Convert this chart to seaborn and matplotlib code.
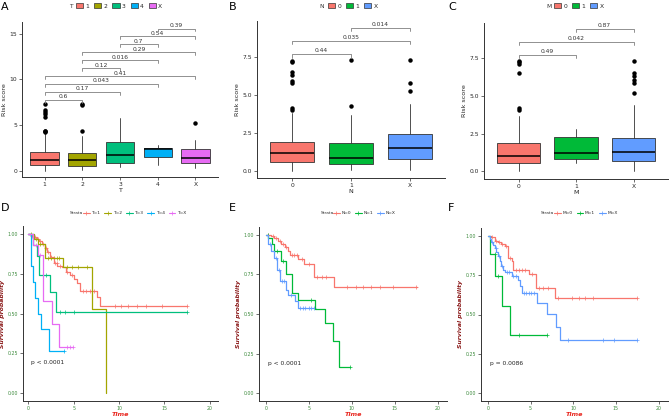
import numpy as np
import pandas as pd
import seaborn as sns
import matplotlib
matplotlib.use('Agg')
import matplotlib.pyplot as plt
from matplotlib.patches import Patch
from matplotlib.lines import Line2D

# ---- box plot data ----
t_cats = ['1', '2', '3', '4', 'X']
t_q1 = [0.6, 0.5, 0.85, 1.45, 0.8]
t_med = [1.15, 1.15, 1.7, 2.35, 1.35]
t_q3 = [2.0, 1.9, 3.1, 2.45, 2.4]
t_lo = [0.0, 0.05, 0.35, 0.6, 0.3]
t_hi = [4.1, 3.8, 5.8, 2.8, 3.4]
t_out = [[4.2, 4.3, 4.4, 5.85, 6.2, 6.4, 6.6, 7.3], [4.35, 7.2, 7.3], [], [], [5.2]]
t_pvals = ['0.6', '0.17', '0.043', '0.41', '0.12', '0.016', '0.29', '0.7', '0.54', '0.39']

n_cats = ['0', '1', 'X']
n_q1 = [0.6, 0.5, 0.8]
n_med = [1.2, 0.85, 1.5]
n_q3 = [1.93, 1.86, 2.45]
n_lo = [0.0, 0.07, 0.1]
n_hi = [3.8, 3.7, 4.4]
n_out = [[4.05, 4.15, 5.8, 5.9, 6.3, 6.5, 7.2, 7.25], [4.3, 7.3], [5.25, 5.8, 7.3]]
n_pvals = ['0.44', '0.035', '0.014']

m_cats = ['0', '1', 'X']
m_q1 = [0.55, 0.8, 0.7]
m_med = [1.0, 1.2, 1.3]
m_q3 = [1.85, 2.26, 2.24]
m_lo = [0.05, 0.55, 0.0]
m_hi = [3.7, 2.8, 4.4]
m_out = [[4.07, 4.18, 6.53, 7.14, 7.23, 7.32], [], [5.21, 5.87, 6.04, 6.3, 6.48, 7.32]]
m_pvals = ['0.49', '0.042', '0.87']

# ---- Kaplan-Meier data ----
d_groups = ['T=1', 'T=2', 'T=3', 'T=4', 'T=X']
d_times = [[0, 0.3, 0.6, 0.9, 1.2, 1.5, 1.8, 2.1, 2.4, 2.8, 3.2, 3.7, 4.1, 4.6, 5.0, 5.4, 5.7, 7.6, 7.9],
           [0, 0.6, 1.1, 1.8, 3.8, 7.0, 8.5],
           [0, 0.5, 0.9, 1.2, 2.4, 3.0],
           [0, 0.3, 0.45, 0.7, 1.0, 1.4, 2.3],
           [0, 0.5, 1.1, 1.6, 2.6, 3.4]]
d_surv = [[1.0, 0.99, 0.98, 0.97, 0.955, 0.94, 0.91, 0.885, 0.855, 0.82, 0.80, 0.79, 0.76, 0.74, 0.72, 0.69, 0.64, 0.605, 0.547],
          [1.0, 0.97, 0.94, 0.848, 0.79, 0.53, 0.0],
          [1.0, 0.93, 0.86, 0.745, 0.638, 0.511],
          [1.0, 0.8, 0.7, 0.6, 0.5, 0.4, 0.267],
          [1.0, 0.93, 0.866, 0.578, 0.434, 0.292]]
d_end = [17.5, 8.5, 17.5, 3.9, 4.9]
d_cens = [[0.4, 0.7, 1.0, 1.3, 1.6, 1.9, 2.2, 2.5, 2.9, 3.1, 3.5, 4.3, 4.8, 6.0, 6.4, 6.8, 7.2, 9.5, 10.2, 11.0, 12.0, 13.0, 14.7, 17.5],
          [0.3, 0.8, 1.3, 2.2, 2.5, 2.8, 3.1, 3.4, 4.2, 4.8, 5.5, 6.5],
          [1.9, 3.5, 4.0, 5.0, 17.5],
          [3.9],
          [0.8, 1.3, 4.2, 4.6, 4.9]]

e_groups = ['N=0', 'N=1', 'N=X']
e_times = [[0, 0.6, 1.0, 1.4, 1.8, 2.2, 2.6, 2.8, 3.8, 4.5, 5.6, 7.9],
           [0, 0.3, 0.7, 1.0, 1.8, 2.4, 3.0, 3.8, 5.7, 6.9, 7.8, 8.5],
           [0, 0.3, 0.6, 1.0, 1.3, 1.6, 2.3, 2.6, 3.4, 3.8]]
e_surv = [[1.0, 0.99, 0.98, 0.96, 0.94, 0.925, 0.897, 0.876, 0.845, 0.813, 0.734, 0.673],
          [1.0, 0.98, 0.94, 0.897, 0.834, 0.755, 0.63, 0.587, 0.53, 0.44, 0.331, 0.168],
          [1.0, 0.94, 0.9, 0.855, 0.78, 0.709, 0.652, 0.618, 0.583, 0.539]]
e_end = [17.6, 9.8, 5.6]
e_cens = [[0.3, 0.8, 1.2, 1.6, 2.0, 2.4, 3.0, 3.3, 3.6, 4.2, 5.0, 6.0, 6.5, 7.0, 9.5, 10.5, 11.3, 12.3, 13.3, 14.8, 17.5],
          [0.2, 1.3, 2.0, 5.3, 9.8],
          [0.5, 0.9, 1.2, 1.5, 1.9, 2.1, 2.9, 4.0, 4.3, 4.6, 5.0, 5.3, 5.6]]

f_groups = ['M=0', 'M=1', 'M=X']
f_times = [[0, 0.4, 0.8, 1.2, 1.6, 2.0, 2.4, 2.8, 3.0, 4.8, 5.6, 7.9],
           [0, 0.3, 0.86, 1.65, 2.63],
           [0, 0.2, 0.4, 0.6, 0.8, 1.0, 1.2, 1.4, 1.6, 1.8, 2.0, 2.8, 3.5, 3.8, 4.0, 5.7, 6.9, 7.96, 8.43]]
f_surv = [[1.0, 0.99, 0.97, 0.96, 0.95, 0.937, 0.86, 0.84, 0.785, 0.758, 0.67, 0.602],
          [1.0, 0.886, 0.743, 0.554, 0.37],
          [1.0, 0.98, 0.96, 0.94, 0.92, 0.9, 0.87, 0.84, 0.81, 0.785, 0.768, 0.745, 0.72, 0.68, 0.638, 0.575, 0.505, 0.421, 0.337]]
f_end = [17.5, 6.9, 17.5]
f_cens = [[0.5, 0.9, 1.3, 1.7, 2.1, 2.6, 3.3, 3.6, 4.0, 4.4, 5.2, 6.0, 6.5, 7.0, 8.2, 9.8, 10.7, 11.4, 12.3, 17.5],
          [0.8, 1.2, 3.6, 6.9],
          [0.5, 0.9, 1.3, 1.7, 2.2, 2.5, 3.0, 3.3, 4.2, 4.5, 4.8, 5.1, 5.4, 9.4, 13.5, 14.8, 17.5]]

pal5 = ['#F8766D', '#A3A500', '#00BF7D', '#00B0F6', '#E76BF3']
pal3 = ['#F8766D', '#00BA38', '#619CFF']

sns.set_theme(style='ticks')
plt.rcParams['font.family'] = ['DejaVu Sans']
plt.rcParams['axes.linewidth'] = 0.7

W, H = 669, 417
fig = plt.figure(figsize=(W / 100, H / 100), dpi=100)


def px_axes(l, t, r, b):
    return fig.add_axes([l / W, 1 - b / H, (r - l) / W, (b - t) / H])


def style_axes(ax, fs):
    sns.despine(ax=ax)
    for s in ['left', 'bottom']:
        ax.spines[s].set_color('#333333')
        ax.spines[s].set_linewidth(0.7)
    ax.tick_params(length=2, width=0.5, pad=1.5, labelsize=fs, color='#333333')


def box_panel(ax, cats, q1, med, q3, lo, hi, out, pvals, pal, ylim, yticks, xlab,
              base, step, tip):
    stats = []
    for i in range(len(cats)):
        stats.append({'med': med[i], 'q1': q1[i], 'q3': q3[i],
                      'whislo': lo[i], 'whishi': hi[i], 'fliers': out[i]})
    pos = np.arange(1, len(cats) + 1)
    bp = ax.bxp(stats, positions=pos, widths=0.75, patch_artist=True, showcaps=False,
                boxprops=dict(edgecolor='#333333', linewidth=0.6),
                medianprops=dict(color='black', linewidth=1.1),
                whiskerprops=dict(color='#333333', linewidth=0.6),
                flierprops=dict(marker='o', markerfacecolor='black', markeredgecolor='black',
                                markersize=2.2))
    for patch, c in zip(bp['boxes'], pal):
        patch.set_facecolor(c)
    # brackets
    pairs = [(a, b) for a in range(len(cats)) for b in range(a + 1, len(cats))]
    for k, ((a, b), p) in enumerate(zip(pairs, pvals)):
        y = base + k * step
        ax.plot([pos[a], pos[a], pos[b], pos[b]], [y - tip, y, y, y - tip],
                color='#7f7f7f', linewidth=0.6)
        ax.text((pos[a] + pos[b]) / 2, y + step * 0.08, p, ha='center', va='bottom',
                fontsize=4.3, color='#333333')
    ax.set_xlim(0.4, len(cats) + 0.6)
    ax.set_ylim(*ylim)
    ax.set_yticks(yticks)
    ax.set_xticks(pos)
    ax.set_xticklabels(cats)
    ax.set_xlabel(xlab, fontsize=4.6, labelpad=1)
    ax.set_ylabel('Risk score', fontsize=4.6, labelpad=2)
    style_axes(ax, 4.3)


def box_legend(title, cats, pal, tx, lx, y):
    fig.text(tx / W, 1 - y / H, title, fontsize=4.3, ha='center', va='center', color='#333333')
    handles = [Patch(facecolor=c, edgecolor='#333333', linewidth=0.5) for c in pal]
    fig.legend(handles, cats, loc='center left', bbox_to_anchor=(lx / W, 1 - y / H),
               ncol=len(cats), frameon=False, fontsize=4.3, handlelength=1.2,
               handleheight=0.8, handletextpad=0.4, columnspacing=0.8, borderpad=0,
               borderaxespad=0)


def km_panel(ax, groups, times, survs, ends, cens, pal, xlim, ptext):
    rows = []
    for g, t, s, e in zip(groups, times, survs, ends):
        tt, ss = list(t), list(s)
        if e > tt[-1]:
            tt.append(e)
            ss.append(ss[-1])
        rows.append(pd.DataFrame({'time': tt, 'surv': ss, 'group': g}))
    df = pd.concat(rows, ignore_index=True)
    sns.lineplot(data=df, x='time', y='surv', hue='group', palette=pal, estimator=None,
                 drawstyle='steps-post', linewidth=0.9, legend=False, ax=ax)
    for g, t, s, c, col in zip(groups, times, survs, cens, pal):
        idx = np.searchsorted(t, c, side='right') - 1
        cy = np.array(s)[idx]
        sns.scatterplot(x=c, y=cy, marker='+', color=col, s=10, linewidth=0.5, ax=ax,
                        legend=False)
    ax.text(0.3, 0.19, ptext, fontsize=4.3, ha='left', va='center', color='#222222')
    ax.set_xlim(*xlim)
    ax.set_ylim(-0.05, 1.05)
    ax.set_xticks([0, 5, 10, 15, 20])
    ax.set_yticks([0, 0.25, 0.5, 0.75, 1.0])
    ax.set_yticklabels(['0.00', '0.25', '0.50', '0.75', '1.00'])
    ax.set_xlabel('Time', fontsize=4.6, color='#E8261F', fontstyle='italic',
                  fontweight='bold', labelpad=1)
    ax.set_ylabel('Survival probability', fontsize=4.4, color='#8B1A1A', fontstyle='italic',
                  fontweight='bold', labelpad=2)
    style_axes(ax, 3.4)
    ax.tick_params(labelcolor='#3D8B3D')


def km_legend(groups, pal, tx, lx, y):
    fig.text(tx / W, 1 - y / H, 'Strata', fontsize=3.2, ha='center', va='center', color='#333333')
    handles = [Line2D([0], [0], color=c, linewidth=0.8, marker='+', markersize=3,
                      markeredgewidth=0.5) for c in pal]
    fig.legend(handles, groups, loc='center left', bbox_to_anchor=(lx / W, 1 - y / H),
               ncol=len(groups), frameon=False, fontsize=3.2, handlelength=1.5,
               handletextpad=0.4, columnspacing=0.9, borderpad=0, borderaxespad=0)


# ---- top row: box plots ----
ax_a = px_axes(22, 22, 218, 177)
box_panel(ax_a, t_cats, t_q1, t_med, t_q3, t_lo, t_hi, t_out, t_pvals, pal5,
          (-0.7, 16.3), [0, 5, 10, 15], 'T', 7.75, 0.87, 0.3)
box_legend('T', t_cats, pal5, 71, 76, 6)

ax_b = px_axes(257, 21, 445, 178)
box_panel(ax_b, n_cats, n_q1, n_med, n_q3, n_lo, n_hi, n_out, n_pvals, pal3,
          (-0.44, 9.87), [0, 2.5, 5, 7.5], 'N', 7.68, 0.875, 0.22)
box_legend('N', n_cats, pal3, 322, 328, 6)

ax_c = px_axes(484, 23, 668, 179)
box_panel(ax_c, m_cats, m_q1, m_med, m_q3, m_lo, m_hi, m_out, m_pvals, pal3,
          (-0.5, 9.82), [0, 2.5, 5, 7.5], 'M', 7.71, 0.87, 0.22)
box_legend('M', m_cats, pal3, 549, 554, 6)

# ---- bottom row: Kaplan-Meier curves ----
ax_d = px_axes(23, 226, 218, 401)
km_panel(ax_d, d_groups, d_times, d_surv, d_end, d_cens, pal5, (-0.6, 20.9), 'p < 0.0001')
km_legend(d_groups, pal5, 76, 83, 213)

ax_e = px_axes(259, 227, 447, 401)
km_panel(ax_e, e_groups, e_times, e_surv, e_end, e_cens, pal3, (-0.8, 21.1), 'p < 0.0001')
km_legend(e_groups, pal3, 327, 333, 213)

ax_f = px_axes(481, 228, 668, 401)
km_panel(ax_f, f_groups, f_times, f_surv, f_end, f_cens, pal3, (-0.8, 21.1), 'p = 0.0086')
km_legend(f_groups, pal3, 547, 554, 213)

# panel letters
for lab, x, y in [('A', 1, 7), ('B', 229, 7), ('C', 448, 7),
                  ('D', 1, 208), ('E', 229, 208), ('F', 448, 208)]:
    fig.text(x / W, 1 - y / H, lab, fontsize=8, ha='left', va='center', color='black')

fig.savefig('out.png', dpi=100)
